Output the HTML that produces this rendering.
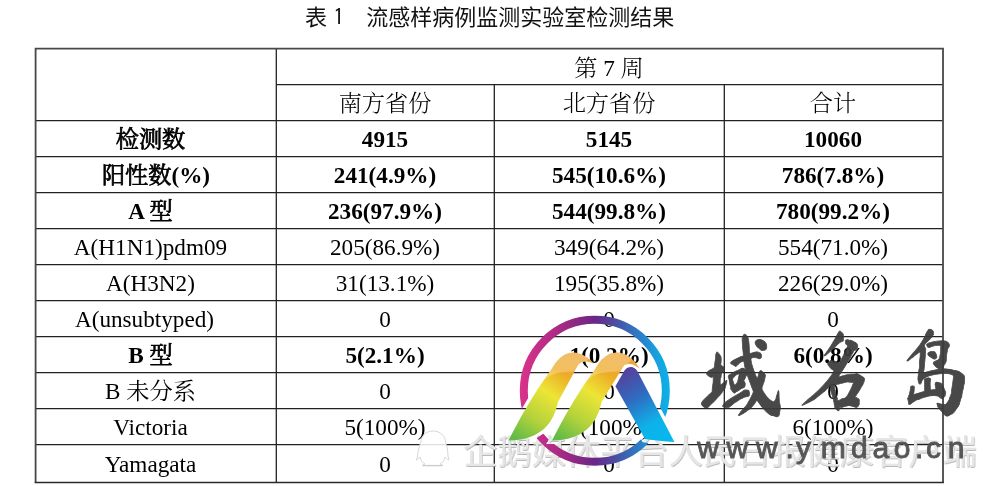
<!DOCTYPE html><html><head><meta charset="utf-8"><style>html,body{margin:0;padding:0;background:#fff;overflow:hidden}svg{display:block}.t{font-family:"Liberation Serif", "Noto Serif CJK SC", serif;font-size:23.2px;fill:#000}.b{font-weight:600}.cj{font-weight:300}.cb{font-weight:400;stroke:#000;stroke-width:0.75px}</style></head><body><svg width="1000" height="486" viewBox="0 0 1000 486"><defs>
<linearGradient id="gRing" gradientUnits="userSpaceOnUse" x1="519" y1="0" x2="671" y2="0">
<stop offset="0" stop-color="#dc338b"/><stop offset="0.27" stop-color="#a82a84"/><stop offset="0.5" stop-color="#6a2786"/><stop offset="0.66" stop-color="#4556a9"/><stop offset="0.8" stop-color="#2a80c8"/><stop offset="0.9" stop-color="#18a0dc"/><stop offset="1" stop-color="#0cb2ea"/>
</linearGradient>
<linearGradient id="gLeaf" gradientUnits="userSpaceOnUse" x1="580" y1="352" x2="520" y2="441">
<stop offset="0" stop-color="#eea53c"/><stop offset="0.25" stop-color="#eeab28"/><stop offset="0.48" stop-color="#ede535"/><stop offset="0.75" stop-color="#b5d33b"/><stop offset="1" stop-color="#62bb47"/>
</linearGradient>
<linearGradient id="gBlue" gradientUnits="userSpaceOnUse" x1="625" y1="366" x2="668" y2="442">
<stop offset="0" stop-color="#5a3b97"/><stop offset="0.38" stop-color="#2f6cc0"/><stop offset="0.72" stop-color="#0eb1ea"/><stop offset="1" stop-color="#05b8ee"/>
</linearGradient>
<path id="leaf" d="M508.5,440.5 C520,418 534,393 551,370 C556,361 563,352.5 573,352.4 C581,352.3 589,357.5 594,364 C589,360.5 582,360.5 578,365 L558,402 C554,421 543,440 508.5,440.5 Z"/>
<path id="blue" d="M615.4,386.2 L624.5,370.5 C626.5,367.8 628.5,367 631,367 C633.5,367 635.5,368.3 637.3,371 L674.4,442.1 C664,441.5 654,440.5 645,439.1 Z"/>
<path id="leaf2" d="M508.5,440.5 C520,418 534,393 551,370 C556,361 563,352.5 573,352.4 C582,352.3 591,359 596.1,368.7 C591,364 585,362.5 580.5,365.5 L558,402 C554,421 543,440 508.5,440.5 Z"/>
<clipPath id="cLeaf2"><use href="#leaf2"/></clipPath>
<clipPath id="cLeaf"><use href="#leaf"/></clipPath>
<mask id="mRing" maskUnits="userSpaceOnUse" x="0" y="0" width="1000" height="486">
<rect width="1000" height="486" fill="#fff"/>
<use href="#leaf" fill="#000" stroke="#000" stroke-width="7"/>
<use href="#leaf2" transform="translate(43.5,0)" fill="#000" stroke="#000" stroke-width="7"/>
<use href="#blue" fill="#000" stroke="#000" stroke-width="7"/>
</mask>
<mask id="mBlue" maskUnits="userSpaceOnUse" x="0" y="0" width="1000" height="486">
<rect width="1000" height="486" fill="#fff"/>
<use href="#leaf2" transform="translate(43.5,0)" fill="#000" stroke="#000" stroke-width="5"/>
</mask>
<filter id="sh" x="-5%" y="-20%" width="110%" height="140%"><feDropShadow dx="0.6" dy="0.9" stdDeviation="0.6" flood-color="#9a9a9a" flood-opacity="0.75"/></filter>
</defs><rect width="1000" height="486" fill="#fff"/><text x="305" y="25" font-family="'Liberation Sans','Noto Sans CJK SC',sans-serif" font-size="22" fill="#111">表 <tspan font-family="IPAGothic,sans-serif">1</tspan>　流感样病例监测实验室检测结果</text><g stroke="#222" stroke-width="1.3" fill="none"><line x1="276.3" y1="84.65" x2="943.0" y2="84.65"/><line x1="35.6" y1="120.65" x2="943.0" y2="120.65"/><line x1="35.6" y1="156.65" x2="943.0" y2="156.65"/><line x1="35.6" y1="192.65" x2="943.0" y2="192.65"/><line x1="35.6" y1="228.65" x2="943.0" y2="228.65"/><line x1="35.6" y1="264.65" x2="943.0" y2="264.65"/><line x1="35.6" y1="300.65" x2="943.0" y2="300.65"/><line x1="35.6" y1="336.65" x2="943.0" y2="336.65"/><line x1="35.6" y1="372.65" x2="943.0" y2="372.65"/><line x1="35.6" y1="408.65" x2="943.0" y2="408.65"/><line x1="35.6" y1="444.65" x2="943.0" y2="444.65"/><line x1="276.3" y1="48" x2="276.3" y2="482.5"/><line x1="494.3" y1="84" x2="494.3" y2="482.5"/><line x1="724.3" y1="84" x2="724.3" y2="482.5"/></g><path d="M35.6,482.4 L35.6,48.6 L943,48.6 L943,482.4" fill="none" stroke="#484848" stroke-width="1.8"/><line x1="34.7" y1="482.5" x2="943.9" y2="482.5" stroke="#2a2a2a" stroke-width="1.4"/><text class="t cj" x="609" y="75.5" text-anchor="middle">第 7 周</text><text class="t cj" x="385" y="111" text-anchor="middle">南方省份</text><text class="t cj" x="609" y="111" text-anchor="middle">北方省份</text><text class="t cj" x="833" y="111" text-anchor="middle">合计</text><text class="t b" x="150.5" y="147" text-anchor="middle"><tspan class="cb">检测数</tspan></text><text class="t b" x="385" y="147" text-anchor="middle">4915</text><text class="t b" x="609" y="147" text-anchor="middle">5145</text><text class="t b" x="833" y="147" text-anchor="middle">10060</text><text class="t b" x="156" y="183" text-anchor="middle"><tspan class="cb">阳性数</tspan>(%)</text><text class="t b" x="385" y="183" text-anchor="middle">241(4.9%)</text><text class="t b" x="609" y="183" text-anchor="middle">545(10.6%)</text><text class="t b" x="833" y="183" text-anchor="middle">786(7.8%)</text><text class="t b" x="150.5" y="219" text-anchor="middle">A <tspan class="cb">型</tspan></text><text class="t b" x="385" y="219" text-anchor="middle">236(97.9%)</text><text class="t b" x="609" y="219" text-anchor="middle">544(99.8%)</text><text class="t b" x="833" y="219" text-anchor="middle">780(99.2%)</text><text class="t" x="150.5" y="255" text-anchor="middle">A(H1N1)pdm09</text><text class="t" x="385" y="255" text-anchor="middle">205(86.9%)</text><text class="t" x="609" y="255" text-anchor="middle">349(64.2%)</text><text class="t" x="833" y="255" text-anchor="middle">554(71.0%)</text><text class="t" x="150.5" y="291" text-anchor="middle">A(H3N2)</text><text class="t" x="385" y="291" text-anchor="middle">31(13.1%)</text><text class="t" x="609" y="291" text-anchor="middle">195(35.8%)</text><text class="t" x="833" y="291" text-anchor="middle">226(29.0%)</text><text class="t" x="144.5" y="327" text-anchor="middle">A(unsubtyped)</text><text class="t" x="385" y="327" text-anchor="middle">0</text><text class="t" x="609" y="327" text-anchor="middle">0</text><text class="t" x="833" y="327" text-anchor="middle">0</text><text class="t b" x="150.5" y="363" text-anchor="middle">B <tspan class="cb">型</tspan></text><text class="t b" x="385" y="363" text-anchor="middle">5(2.1%)</text><text class="t b" x="609" y="363" text-anchor="middle">1(0.2%)</text><text class="t b" x="833" y="363" text-anchor="middle">6(0.8%)</text><text class="t" x="150.5" y="399" text-anchor="middle">B 未分系</text><text class="t" x="385" y="399" text-anchor="middle">0</text><text class="t" x="609" y="399" text-anchor="middle">0</text><text class="t" x="833" y="399" text-anchor="middle">0</text><text class="t" x="150.5" y="435" text-anchor="middle">Victoria</text><text class="t" x="385" y="435" text-anchor="middle">5(100%)</text><text class="t" x="609" y="435" text-anchor="middle">1(100%)</text><text class="t" x="833" y="435" text-anchor="middle">6(100%)</text><text class="t" x="150.5" y="471.5" text-anchor="middle">Yamagata</text><text class="t" x="385" y="471.5" text-anchor="middle">0</text><text class="t" x="609" y="471.5" text-anchor="middle">0</text><text class="t" x="833" y="471.5" text-anchor="middle">0</text><text x="463.3" y="463.5" font-family="'Noto Sans CJK SC',sans-serif" font-size="34.24" fill="#e6e6e6" filter="url(#sh)">企鹅媒体平台人民日报健康客户端</text><path d="M421,442 C421,436 426,431 433,431 C440,431 445.5,436 445.5,442 C447,446 448,452 448,456 L449,460 C447,460 446,458 445,457 C444,461 442,463 440,464 L443,465.5 L422,465.5 L425,464 C423,463 421,461 420,457 C419,458 418,460 416.5,460 L417.5,456 C418,452 419,446 421,442 Z" fill="#fff" fill-opacity="0.85" stroke="#d2d2d2" stroke-width="0.9"/><path d="M423,465.6 L442,465.6" stroke="#cdcdcd" stroke-width="1.4"/><circle cx="594.8" cy="390.8" r="71.0" fill="none" stroke="url(#gRing)" stroke-width="8" mask="url(#mRing)"/><use href="#blue" fill="url(#gBlue)" mask="url(#mBlue)"/><g transform="translate(0,0)"><use href="#leaf" fill="url(#gLeaf)"/><path clip-path="url(#cLeaf)" d="M518,418 C530,392 545,374.5 560,372.5 L578,371 L605,340 L505,340 Z" fill="#fff" fill-opacity="0.25"/></g><g transform="translate(43.5,0)"><use href="#leaf2" fill="url(#gLeaf)"/><path clip-path="url(#cLeaf2)" d="M518,418 C530,392 545,374.5 560,372.5 L578,371 L605,340 L505,340 Z" fill="#fff" fill-opacity="0.25"/></g><text transform="matrix(0.8383 0 0 1.0037 699.09 410.58)" font-family="'Ma Shan Zheng','Noto Serif CJK SC',serif" font-size="100" font-weight="700" style="font-synthesis:none" fill="#3b3b3b" stroke="#3b3b3b" stroke-width="0.8" stroke-linejoin="round" opacity="0.93">域</text><text transform="matrix(0.7617 0 0 0.9068 795.18 402.84)" font-family="'Ma Shan Zheng','Noto Serif CJK SC',serif" font-size="100" font-weight="700" style="font-synthesis:none" fill="#3b3b3b" stroke="#3b3b3b" stroke-width="0.8" stroke-linejoin="round" opacity="0.93">名</text><text transform="matrix(0.8742 0 0 0.9457 891.94 405.70)" font-family="'Ma Shan Zheng','Noto Serif CJK SC',serif" font-size="100" font-weight="700" style="font-synthesis:none" fill="#3b3b3b" stroke="#3b3b3b" stroke-width="0.8" stroke-linejoin="round" opacity="0.93">岛</text><text x="697.35 726.50 756.00 785.55 796.05 820.75 851.10 872.60 893.80 915.00 926.00 947.80" y="457.5" font-family="'Liberation Sans',sans-serif" font-size="30" fill="#4f4f4f" stroke="#4f4f4f" stroke-width="0.9" opacity="0.95">www.ymdao.cn</text></svg></body></html>
